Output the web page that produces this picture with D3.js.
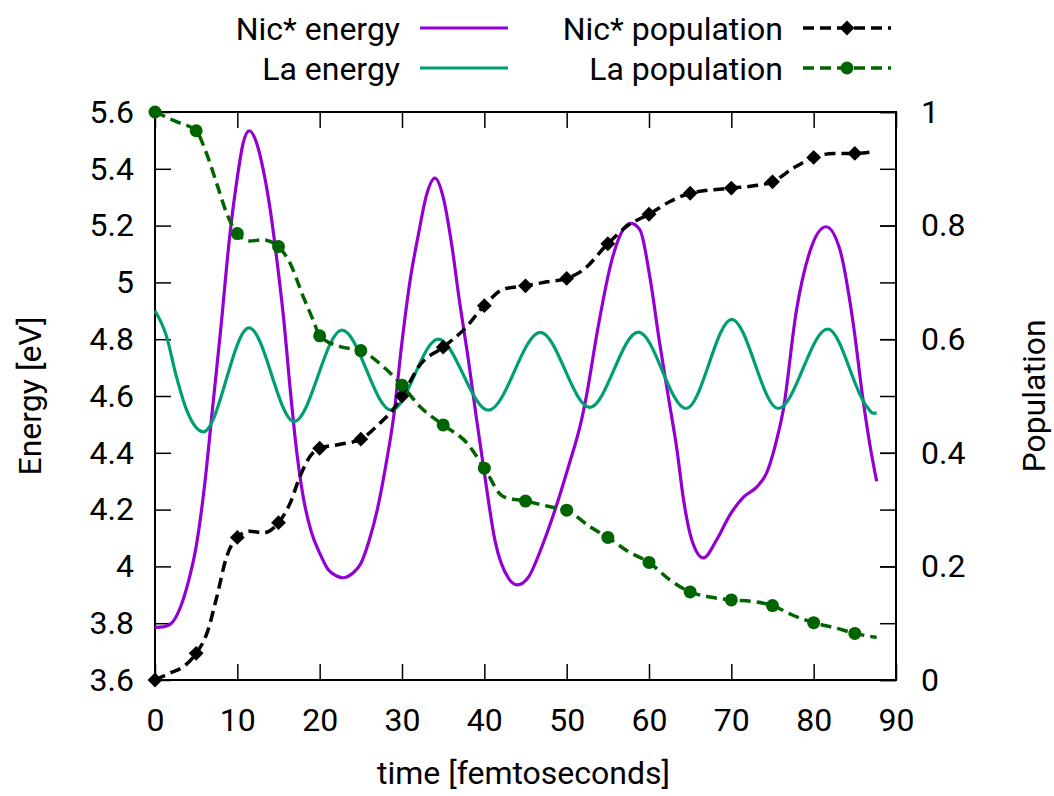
<!DOCTYPE html>
<html>
<head>
<meta charset="utf-8">
<script src="https://cdn.jsdelivr.net/npm/d3@7"></script>
<style>
  body { margin: 0; background: #fff; }
  text { font-family: Roboto, "Noto Sans", sans-serif; fill: #000; }
</style>
</head>
<body>
<svg id="chart"></svg>
<script>
// time axis and tick labels
const timeTicks = [0, 10, 20, 30, 40, 50, 60, 70, 80, 90];
const energyTicks = [3.6, 3.8, 4, 4.2, 4.4, 4.6, 4.8, 5, 5.2, 5.4, 5.6];
const popTicks = [0, 0.2, 0.4, 0.6, 0.8, 1];

// population markers every 5 fs
const markerTime = [0, 5, 10, 15, 20, 25, 30, 35, 40, 45, 50, 55, 60, 65, 70, 75, 80, 85];
const nicPop = [0, 0.047, 0.251, 0.277, 0.408, 0.424, 0.50, 0.586, 0.659, 0.694, 0.707, 0.768, 0.820, 0.857, 0.866, 0.877, 0.920, 0.927];
const laPop = [1.0, 0.967, 0.786, 0.763, 0.606, 0.580, 0.519, 0.449, 0.373, 0.315, 0.299, 0.251, 0.207, 0.155, 0.141, 0.131, 0.101, 0.082];

// extra points of the population lines between markers [t, value]
const nicPopExtra = [[1.8, 0.012], [3.4, 0.023], [6.3, 0.082], [7.5, 0.146], [8.7, 0.217], [11.5, 0.262], [13.2, 0.259],
  [16.4, 0.311], [17.6, 0.358], [18.8, 0.393], [22.5, 0.415], [27.3, 0.452], [29.0, 0.478], [32.2, 0.555], [37.45, 0.616],
  [42.3, 0.688], [47.6, 0.701], [52.0, 0.722], [57.5, 0.801], [62.5, 0.842], [72.7, 0.870], [77.5, 0.901], [82.4, 0.927], [87.25, 0.930]];
const laPopExtra = [[2.6, 0.983], [6.1, 0.933], [7.5, 0.874], [8.7, 0.822], [11.5, 0.773], [13.15, 0.775], [16.4, 0.734],
  [18.0, 0.675], [19.2, 0.634], [22.5, 0.587], [27.7, 0.552], [32.2, 0.481], [37.9, 0.417], [42.3, 0.323], [48.0, 0.305],
  [52.8, 0.270], [57.5, 0.226], [62.55, 0.176], [67.4, 0.146], [72.7, 0.138], [77.5, 0.114], [82.8, 0.091], [87.65, 0.075]];

// energies [t, eV]
const nicEnergy = [[0, 3.785], [1, 3.787], [2, 3.80], [3, 3.85], [4, 3.94], [5, 4.07], [6, 4.28], [7, 4.56], [8, 4.84],
  [9.1, 5.17], [10, 5.37], [10.7, 5.49], [11.46, 5.534], [12.35, 5.49], [13.15, 5.396], [14, 5.255], [14.8, 5.08],
  [15.6, 4.88], [16.5, 4.6], [17, 4.457], [18, 4.245], [19, 4.12], [20, 4.047], [21, 3.99], [22, 3.967], [22.8, 3.96],
  [24, 3.976], [25, 4.01], [26, 4.09], [27, 4.20], [28, 4.35], [29, 4.53], [30, 4.79], [31, 5.01], [32, 5.17], [33, 5.31],
  [34, 5.367], [35, 5.30], [36, 5.14], [37, 4.93], [38, 4.74], [39, 4.53], [40, 4.33], [41.3, 4.09], [42.9, 3.96],
  [44, 3.935], [45.3, 3.96], [47, 4.07], [48.6, 4.20], [50.2, 4.35], [51.8, 4.515], [52.4, 4.6], [53.8, 4.84], [55.5, 5.08],
  [57.1, 5.196], [57.8, 5.208], [58.9, 5.185], [60.1, 5.02], [61.3, 4.785], [62.45, 4.58], [63.4, 4.41], [64.2, 4.234],
  [65.2, 4.093], [66.6, 4.03], [68.2, 4.093], [69.8, 4.18], [71.5, 4.245], [73.1, 4.28], [74.3, 4.33], [75.5, 4.445],
  [76.3, 4.55], [77.9, 4.90], [79.6, 5.114], [81.5, 5.196], [83.2, 5.114], [84.8, 4.856], [86.0, 4.586], [86.8, 4.433], [87.65, 4.30]];
const laEnergy = [[0, 4.90], [1.4, 4.81], [2.6, 4.668], [3.85, 4.55], [5.87, 4.474], [11.42, 4.84], [16.9, 4.51],
  [22.7, 4.832], [28.7, 4.55], [34.4, 4.80], [40.5, 4.55], [46.8, 4.824], [52.8, 4.56], [58.7, 4.825], [64.5, 4.556],
  [70.05, 4.87], [75.7, 4.556], [81.7, 4.836], [86.4, 4.565], [87.2, 4.54], [87.65, 4.54]];

const width = 1054, height = 796;
const margin = {left: 155, right: 158, top: 112, bottom: 116};

const svg = d3.select("#chart").attr("width", width).attr("height", height);

const x = d3.scaleLinear().domain([0, 90]).range([margin.left, width - margin.right]);
const yE = d3.scaleLinear().domain([3.6, 5.6]).range([height - margin.bottom, margin.top]);
const yP = d3.scaleLinear().domain([0, 1]).range([height - margin.bottom, margin.top]);

const fs = 32;
const x0 = margin.left, x1 = width - margin.right, y0 = height - margin.bottom, y1 = margin.top;

// axes with inward ticks, gnuplot style
const styleAxis = g => {
  g.select(".domain").remove();
  g.selectAll(".tick line").attr("stroke", "#000").attr("stroke-width", 1.5);
  g.selectAll("text").attr("font-size", fs).attr("fill", "#000").style("font-family", "Roboto, sans-serif");
};

svg.append("g").attr("transform", `translate(0,${y0})`)
  .call(d3.axisBottom(x).tickValues(timeTicks).tickSizeInner(-16).tickSizeOuter(0).tickPadding(28).tickFormat(d3.format("d")))
  .call(styleAxis);
svg.append("g").attr("transform", `translate(0,${y1})`)
  .call(d3.axisTop(x).tickValues(timeTicks).tickSizeInner(-16).tickSizeOuter(0).tickFormat(""))
  .call(styleAxis);
svg.append("g").attr("transform", `translate(${x0},0)`)
  .call(d3.axisLeft(yE).tickValues(energyTicks).tickSizeInner(-16).tickSizeOuter(0).tickPadding(21).tickFormat(d3.format("~g")))
  .call(styleAxis);
svg.append("g").attr("transform", `translate(${x1},0)`)
  .call(d3.axisRight(yE).tickValues(energyTicks).tickSizeInner(-16).tickSizeOuter(0).tickFormat(""))
  .call(styleAxis);
svg.append("g").attr("transform", `translate(${x1},0)`)
  .call(d3.axisRight(yP).tickValues(popTicks).tickSizeInner(-16).tickSizeOuter(0).tickPadding(25).tickFormat(d3.format("~g")))
  .call(styleAxis);

// border
svg.append("rect")
  .attr("x", x0).attr("y", y1).attr("width", x1 - x0).attr("height", y0 - y1)
  .attr("fill", "none").attr("stroke", "#000").attr("stroke-width", 2);

// axis titles
svg.append("text").attr("x", (x0 + x1) / 2 - 2).attr("y", 784).attr("text-anchor", "middle")
  .attr("font-size", fs).text("time [femtoseconds]");
svg.append("text").attr("transform", `translate(41,${(y0 + y1) / 2}) rotate(-90)`).attr("text-anchor", "middle")
  .attr("font-size", fs).text("Energy [eV]");
svg.append("text").attr("transform", `translate(1045,${(y0 + y1) / 2}) rotate(-90)`).attr("text-anchor", "middle")
  .attr("font-size", fs).text("Population");

// series
const nicPopLine = markerTime.map((t, i) => [t, nicPop[i]]).concat(nicPopExtra).sort((a, b) => a[0] - b[0]);
const laPopLine = markerTime.map((t, i) => [t, laPop[i]]).concat(laPopExtra).sort((a, b) => a[0] - b[0]);

const lineE = d3.line().x(d => x(d[0])).y(d => yE(d[1])).curve(d3.curveMonotoneX);
const lineP = d3.line().x(d => x(d[0])).y(d => yP(d[1])).curve(d3.curveMonotoneX);

const COL_NIC_E = "#9400d3", COL_LA_E = "#009e73", COL_NIC_P = "#000000", COL_LA_P = "#006400";
const dash = "11,6";

const plot = svg.append("g");
plot.append("path").attr("d", lineE(nicEnergy)).attr("fill", "none").attr("stroke", COL_NIC_E).attr("stroke-width", 3.2);
plot.append("path").attr("d", lineE(laEnergy)).attr("fill", "none").attr("stroke", COL_LA_E).attr("stroke-width", 3.2);
plot.append("path").attr("d", lineP(nicPopLine)).attr("fill", "none").attr("stroke", COL_NIC_P).attr("stroke-width", 3.5).attr("stroke-dasharray", dash);

const diamond = d3.symbol().type(d3.symbolDiamond2).size(140);
plot.append("g").selectAll("path").data(markerTime).join("path")
  .attr("d", diamond).attr("fill", COL_NIC_P)
  .attr("transform", (t, i) => `translate(${x(t)},${yP(nicPop[i])})`);

plot.append("path").attr("d", lineP(laPopLine)).attr("fill", "none").attr("stroke", COL_LA_P).attr("stroke-width", 3.5).attr("stroke-dasharray", dash);
plot.append("g").selectAll("circle").data(markerTime).join("circle")
  .attr("cx", t => x(t)).attr("cy", (t, i) => yP(laPop[i])).attr("r", 6.5).attr("fill", COL_LA_P);

// legend
const legendNames = ["Nic* energy", "La energy", "Nic* population", "La population"];
const legendColors = [COL_NIC_E, COL_LA_E, COL_NIC_P, COL_LA_P];
const legendPos = [[400, 28], [400, 68], [783, 28], [783, 68]];

legendNames.forEach((name, i) => {
  const [lx, ly] = legendPos[i];
  const g = svg.append("g");
  g.append("text").attr("x", lx).attr("y", ly).attr("dy", "0.36em").attr("text-anchor", "end")
    .attr("font-size", fs).text(name);
  const s0 = lx + 20, s1 = lx + 108;
  const ln = g.append("line").attr("x1", s0).attr("x2", s1).attr("y1", ly).attr("y2", ly)
    .attr("stroke", legendColors[i]).attr("stroke-width", i < 2 ? 3.2 : 3.5);
  if (i >= 2) {
    ln.attr("stroke-dasharray", dash);
    const mx = (s0 + s1) / 2;
    if (i === 2) g.append("path").attr("d", diamond).attr("fill", legendColors[i]).attr("transform", `translate(${mx},${ly})`);
    else g.append("circle").attr("cx", mx).attr("cy", ly).attr("r", 6.5).attr("fill", legendColors[i]);
  }
});
</script>
</body>
</html>
